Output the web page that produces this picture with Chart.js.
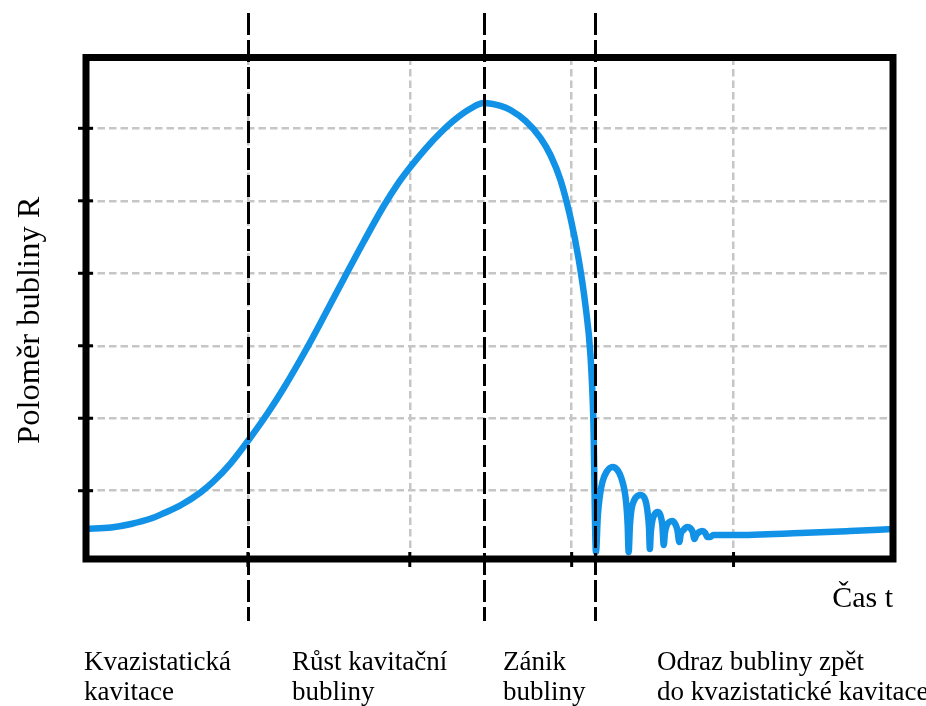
<!DOCTYPE html>
<html lang="cs">
<head>
<meta charset="utf-8">
<title>Poloměr bubliny v čase</title>
<script src="https://cdn.jsdelivr.net/npm/chart.js@4.4.1/dist/chart.umd.min.js"></script>
<style>
  html, body { margin: 0; padding: 0; background: #ffffff; }
  canvas { display: block; }
</style>
</head>
<body>
<canvas id="chart" width="926" height="706"></canvas>
<script>
// Čas t (relativní jednotky)
const timeValues = [
  // kvazistatická kavitace a růst
  0.0, 0.155, 0.278, 0.402, 0.482, 0.587, 0.710, 0.790, 0.895, 1.000,
  1.123, 1.222, 1.358, 1.481, 1.592, 1.716, 1.839, 1.925, 2.006, 2.098,
  2.191, 2.283, 2.376, 2.456,
  // zánik
  2.561, 2.622, 2.715, 2.808, 2.869, 2.931, 2.993, 3.042, 3.085, 3.116,
  3.134, 3.150,
  // odrazy
  3.162, 3.175, 3.190, 3.215, 3.252, 3.283, 3.307, 3.326, 3.338, 3.346, 3.352,
  3.360, 3.369, 3.387, 3.424, 3.455, 3.469, 3.478, 3.483,
  3.489, 3.499, 3.514, 3.529, 3.548, 3.560, 3.569,
  3.576, 3.588, 3.603, 3.622, 3.640, 3.653, 3.665,
  3.674, 3.690, 3.714, 3.733, 3.748, 3.758,
  3.770, 3.788, 3.807, 3.825, 3.838,
  // návrat do kvazistatického stavu
  3.856, 3.875, 3.998, 4.411, 4.720, 4.985
];

// Poloměr bubliny R (relativní jednotky)
const radiusValues = [
  0.472, 0.492, 0.541, 0.616, 0.692, 0.803, 0.982, 1.134, 1.382, 1.686,
  2.072, 2.417, 2.941, 3.452, 3.921, 4.438, 4.928, 5.231, 5.473, 5.721,
  5.942, 6.128, 6.273, 6.349,
  6.308, 6.252, 6.101, 5.866, 5.632, 5.287, 4.762, 4.211, 3.562, 2.872,
  1.975, 0.154,
  0.665, 0.941, 1.120, 1.258, 1.327, 1.286, 1.175, 1.010, 0.803, 0.527, 0.154,
  0.527, 0.734, 0.872, 0.941, 0.872, 0.706, 0.485, 0.196,
  0.430, 0.596, 0.679, 0.706, 0.665, 0.527, 0.251,
  0.416, 0.527, 0.568, 0.582, 0.541, 0.458, 0.292,
  0.403, 0.458, 0.499, 0.485, 0.430, 0.334,
  0.389, 0.430, 0.444, 0.416, 0.361,
  0.361, 0.389, 0.389, 0.416, 0.444, 0.471
];

const timeTicks = [1, 2, 3, 4];
const radiusTicks = [1, 2, 3, 4, 5, 6];

// Hranice jednotlivých fází
const phaseBounds = [1.0, 2.456, 3.147];

const phaseLabels = [
  ['Kvazistatická', 'kavitace'],
  ['Růst kavitační', 'bubliny'],
  ['Zánik', 'bubliny'],
  ['Odraz bubliny zpět', 'do kvazistatické kavitace']
];
const phaseLabelX = [84, 292, 503, 657];

const yTitle = 'Poloměr bubliny R';
const xTitle = 'Čas t';

const SERIF = '"Liberation Serif", "Times New Roman", "DejaVu Serif", serif';

const frame = {
  id: 'frame',
  afterDatasetsDraw(chart) {
    const { ctx, chartArea: a, scales: { x, y } } = chart;
    ctx.save();

    // svislé čárkované hranice fází
    ctx.strokeStyle = '#000000';
    ctx.lineWidth = 3;
    ctx.setLineDash([22, 5]);
    ctx.lineCap = 'butt';
    for (const b of phaseBounds) {
      const px = Math.round(x.getPixelForValue(b)) + 0.5;
      ctx.beginPath();
      ctx.moveTo(px, 13);
      ctx.lineTo(px, 621);
      ctx.stroke();
    }
    ctx.setLineDash([]);

    // rámeček grafu
    ctx.lineWidth = 7;
    ctx.lineJoin = 'miter';
    ctx.strokeRect(a.left, a.top, a.right - a.left, a.bottom - a.top);

    // značky os
    ctx.lineWidth = 3;
    for (const v of radiusTicks) {
      const py = y.getPixelForValue(v);
      ctx.beginPath();
      ctx.moveTo(a.left - 8, py);
      ctx.lineTo(a.left + 7, py);
      ctx.stroke();
    }
    for (const v of timeTicks) {
      const px = x.getPixelForValue(v);
      ctx.beginPath();
      ctx.moveTo(px, a.bottom - 7);
      ctx.lineTo(px, a.bottom + 8);
      ctx.stroke();
    }

    // popisky os
    ctx.fillStyle = '#000000';
    ctx.font = '32.5px ' + SERIF;
    ctx.textBaseline = 'alphabetic';
    ctx.save();
    ctx.translate(39, (a.top + a.bottom) / 2 + 12);
    ctx.rotate(-Math.PI / 2);
    ctx.textAlign = 'center';
    ctx.fillText(yTitle, 0, 0);
    ctx.restore();

    ctx.font = '30px ' + SERIF;
    ctx.textAlign = 'right';
    ctx.fillText(xTitle, a.right, 607);

    // názvy fází
    ctx.font = '27px ' + SERIF;
    ctx.textAlign = 'left';
    phaseLabels.forEach((lines, i) => {
      lines.forEach((line, j) => {
        ctx.fillText(line, phaseLabelX[i], 670 + j * 30);
      });
    });

    ctx.restore();
  }
};

new Chart(document.getElementById('chart'), {
  type: 'line',
  data: {
    datasets: [{
      data: timeValues.map((t, i) => ({ x: t, y: radiusValues[i] })),
      borderColor: '#1192e6',
      borderWidth: 6.5,
      borderCapStyle: 'round',
      borderJoinStyle: 'round',
      pointRadius: 0,
      cubicInterpolationMode: 'monotone',
      fill: false
    }]
  },
  options: {
    responsive: false,
    devicePixelRatio: 1,
    animation: false,
    layout: { padding: { left: 86, right: 33, top: 57.5, bottom: 147 } },
    plugins: { legend: { display: false }, tooltip: { enabled: false } },
    scales: {
      x: {
        type: 'linear',
        min: 0,
        max: 4.985,
        afterBuildTicks: s => { s.ticks = timeTicks.map(v => ({ value: v })); },
        ticks: { display: false },
        grid: { color: '#c6c6c6', lineWidth: 2.5, drawTicks: false },
        border: { display: false, dash: [7.5, 4] }
      },
      y: {
        type: 'linear',
        min: 0.058,
        max: 6.977,
        afterBuildTicks: s => { s.ticks = radiusTicks.map(v => ({ value: v })); },
        ticks: { display: false },
        grid: { color: '#c6c6c6', lineWidth: 2.5, drawTicks: false },
        border: { display: false, dash: [7.5, 4] }
      }
    }
  },
  plugins: [frame]
});
</script>
</body>
</html>
